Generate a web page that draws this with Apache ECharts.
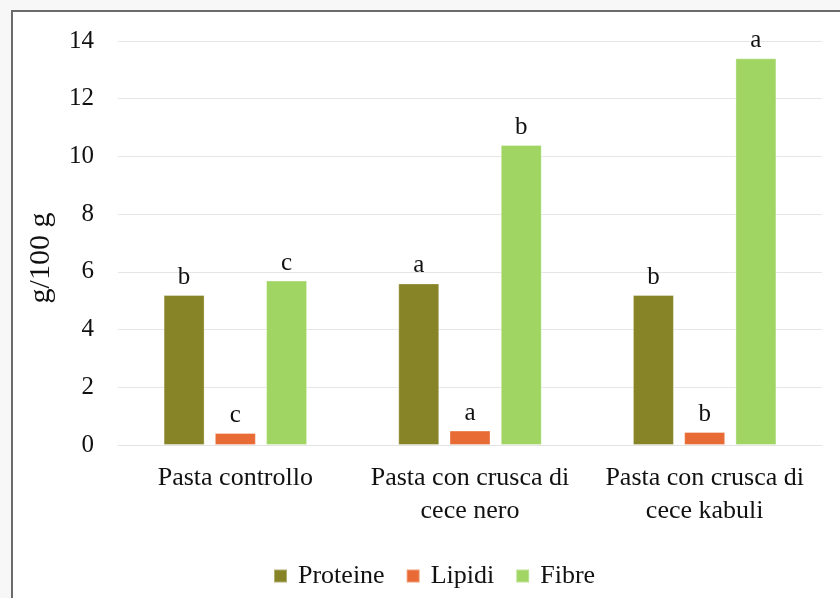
<!DOCTYPE html>
<html>
<head>
<meta charset="utf-8">
<script src="https://cdn.jsdelivr.net/npm/echarts@6/dist/echarts.min.js"></script>
<style>
  html, body { margin: 0; padding: 0; background: #f7f7f7; }
  #chart { width: 840px; height: 598px; }
</style>
</head>
<body>
<div id="chart"></div>
<script>
const categories = ["Pasta controllo", "Pasta con crusca di\ncece nero", "Pasta con crusca di\ncece kabuli"];
const seriesNames = ["Proteine", "Lipidi", "Fibre"];
const proteine = [5.2, 5.6, 5.2];
const lipidi = [0.42, 0.5, 0.45];
const fibre = [5.7, 10.4, 13.4];
const proteineLetters = ["b", "a", "b"];
const lipidiLetters = ["c", "a", "b"];
const fibreLetters = ["c", "b", "a"];
const colors = ["#868426", "#e86a34", "#a0d563"];

const font = "'Liberation Serif', 'DejaVu Serif', serif";

function makeSeries(name, values, letters, color) {
  return {
    name,
    type: "bar",
    data: values,
    barWidth: 41,
    barGap: "25%",
    itemStyle: { color, borderColor: "rgba(255,255,255,0.35)", borderWidth: 1 },
    label: {
      show: true,
      position: "top",
      distance: 5,
      formatter: (p) => letters[p.dataIndex],
      color: "#111",
      fontFamily: font,
      fontSize: 25
    }
  };
}

const chart = echarts.init(document.getElementById("chart"));
chart.setOption({
  backgroundColor: "#f7f7f7",
  animation: false,
  graphic: [{
    type: "rect",
    shape: { x: 12, y: 11, width: 840, height: 600 },
    style: { fill: "#ffffff", stroke: "#6b6b6b", lineWidth: 2 },
    z: -10
  }],
  grid: { left: 118, right: 18, top: 41, bottom: 153 },
  legend: {
    data: seriesNames,
    bottom: 4,
    left: 268,
    itemWidth: 13,
    itemHeight: 13,
    itemGap: 21,
    icon: "rect",
    textStyle: { fontFamily: font, fontSize: 26, color: "#111", padding: [0, 0, 0, 6] }
  },
  xAxis: {
    type: "category",
    data: categories,
    axisLine: { show: true, lineStyle: { color: "#e3e3e3", width: 1 } },
    axisTick: { show: false },
    axisLabel: {
      fontFamily: font, fontSize: 26, color: "#111", margin: 17,
      lineHeight: 33, interval: 0
    }
  },
  yAxis: {
    type: "value",
    min: 0,
    max: 14,
    interval: 2,
    name: "g/100 g",
    nameLocation: "middle",
    nameGap: 62,
    nameRotate: 90,
    nameTextStyle: { fontFamily: font, fontSize: 30, color: "#111", padding: [0, 30, 0, 0] },
    axisLine: { show: false },
    axisTick: { show: false },
    axisLabel: { fontFamily: font, fontSize: 25, color: "#111", margin: 24 },
    splitLine: { lineStyle: { color: "#e6e6e6", width: 1 } }
  },
  series: [
    makeSeries(seriesNames[0], proteine, proteineLetters, colors[0]),
    makeSeries(seriesNames[1], lipidi, lipidiLetters, colors[1]),
    makeSeries(seriesNames[2], fibre, fibreLetters, colors[2])
  ]
});
</script>
</body>
</html>
